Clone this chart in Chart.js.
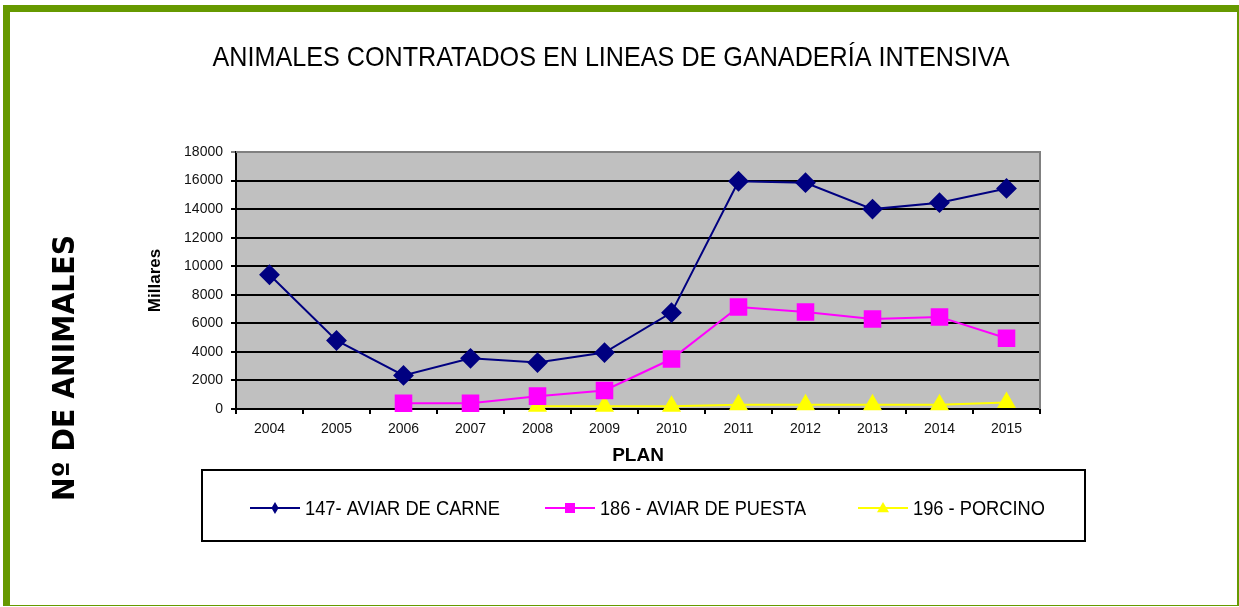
<!DOCTYPE html>
<html>
<head>
<meta charset="utf-8">
<script src="https://cdn.jsdelivr.net/npm/chart.js@4.4.0/dist/chart.umd.min.js"></script>
<style>
  html, body { margin: 0; padding: 0; background: #fff; }
  #frame {
    position: absolute; left: 3px; top: 5px; width: 1227px; height: 593px;
    border-left: 7px solid #669900; border-top: 7px solid #669900;
    border-right: 2px solid #669900; border-bottom: 1px solid #669900;
  }
  #chart { position: absolute; left: 0; top: 0; }
</style>
</head>
<body>
<div id="frame"></div>
<canvas id="chart" width="1239" height="607"></canvas>
<script>
const years = ["2004", "2005", "2006", "2007", "2008", "2009", "2010", "2011", "2012", "2013", "2014", "2015"];
const aviarCarne = [9400, 4800, 2350, 3550, 3250, 3950, 6750, 15950, 15850, 14000, 14450, 15450];
const aviarPuesta = [null, null, 400, 400, 900, 1300, 3500, 7150, 6800, 6300, 6450, 4950];
const porcino = [null, null, null, null, 200, 200, 200, 300, 300, 300, 300, 450];

const seriesNames = ["147- AVIAR DE CARNE", "186 - AVIAR DE PUESTA", "196 - PORCINO"];
const yTicks = [0, 2000, 4000, 6000, 8000, 10000, 12000, 14000, 16000, 18000];
const chartTitle = "ANIMALES CONTRATADOS EN LINEAS DE GANADERÍA INTENSIVA";

const tickFont = { family: "Arial, 'Liberation Sans', sans-serif", size: 14 };

// gray plot background, gray top/right edge, title, legend box and side label
const decorations = {
  id: "decorations",
  beforeDraw(chart) {
    const { ctx, chartArea: a } = chart;
    ctx.save();
    ctx.fillStyle = "#c0c0c0";
    ctx.fillRect(a.left, a.top, a.right - a.left, a.bottom - a.top);
    ctx.restore();
  },
  beforeDatasetsDraw(chart) {
    const { ctx, chartArea: a } = chart;
    ctx.save();
    ctx.strokeStyle = "#808080";
    ctx.lineWidth = 2;
    ctx.beginPath();
    ctx.moveTo(a.left, a.top);
    ctx.lineTo(a.right, a.top);
    ctx.lineTo(a.right, a.bottom);
    ctx.stroke();
    ctx.restore();
  },
  afterDraw(chart) {
    const { ctx } = chart;
    ctx.save();
    // title, condensed to the narrow look of the original
    ctx.fillStyle = "#000";
    ctx.font = "28px 'Liberation Sans', Arial, sans-serif";
    ctx.textAlign = "center";
    ctx.textBaseline = "middle";
    ctx.fillText(chartTitle, 611, 58, 797);

    // legend box
    ctx.strokeStyle = "#000";
    ctx.lineWidth = 2;
    ctx.strokeRect(202, 470, 883, 71);
    const itemX = [250, 545, 858];
    const textW = [195, 206, 132];
    const cy = 508;
    ctx.font = "20px 'Liberation Sans', Arial, sans-serif";
    ctx.textAlign = "left";
    chart.data.datasets.forEach((ds, i) => {
      const x0 = itemX[i];
      const mx = x0 + 25;
      ctx.strokeStyle = ds.borderColor;
      ctx.lineWidth = 2;
      ctx.beginPath();
      ctx.moveTo(x0, cy);
      ctx.lineTo(x0 + 50, cy);
      ctx.stroke();
      ctx.fillStyle = ds.backgroundColor;
      ctx.beginPath();
      const r = 6;
      if (ds.pointStyle === "rectRot") {
        ctx.moveTo(mx, cy - r); ctx.lineTo(mx + r * 0.6, cy);
        ctx.lineTo(mx, cy + r); ctx.lineTo(mx - r * 0.6, cy);
      } else if (ds.pointStyle === "rect") {
        ctx.rect(mx - 5, cy - 5, 10, 10);
      } else {
        ctx.moveTo(mx, cy - r); ctx.lineTo(mx + r, cy + r * 0.7);
        ctx.lineTo(mx - r, cy + r * 0.7);
      }
      ctx.closePath();
      ctx.fill();
      ctx.fillStyle = "#000";
      ctx.fillText(ds.label, x0 + 55, cy + 1, textW[i]);
    });

    // outer axis label
    ctx.translate(66, 368);
    ctx.rotate(-Math.PI / 2);
    ctx.font = "bold 30px 'DejaVu Sans', sans-serif";
    ctx.textAlign = "center";
    ctx.fillStyle = "#000";
    ctx.fillText("Nº DE ANIMALES", 0, 0, 266);
    ctx.restore();
  }
};

new Chart(document.getElementById("chart"), {
  type: "line",
  plugins: [decorations],
  data: {
    labels: years,
    datasets: [
      {
        label: seriesNames[0], data: aviarCarne,
        borderColor: "#000080", backgroundColor: "#000080",
        borderWidth: 2, pointStyle: "rectRot", pointRadius: 9, clip: false
      },
      {
        label: seriesNames[1], data: aviarPuesta,
        borderColor: "#ff00ff", backgroundColor: "#ff00ff",
        borderWidth: 2, pointStyle: "rect", pointRadius: 11, clip: false
      },
      {
        label: seriesNames[2], data: porcino,
        borderColor: "#ffff00", backgroundColor: "#ffff00",
        borderWidth: 2, pointStyle: "triangle", pointRadius: 9, clip: false
      }
    ]
  },
  options: {
    responsive: false,
    animation: false,
    events: [],
    layout: { padding: { left: 145, right: 199, top: 152, bottom: 138 } },
    elements: { line: { tension: 0 }, point: { borderWidth: 1 } },
    plugins: {
      legend: { display: false },
      tooltip: { enabled: false },
      title: { display: false }
    },
    scales: {
      x: {
        offset: true,
        grid: { offset: true, drawOnChartArea: false, color: "#000", lineWidth: 2, tickLength: 5 },
        border: { color: "#000", width: 2 },
        ticks: { color: "#111", font: tickFont, padding: 7, maxRotation: 0 },
        title: {
          display: true, text: "PLAN", color: "#000",
          font: { family: "Arial, 'Liberation Sans', sans-serif", size: 19, weight: "bold" },
          padding: { top: 0, bottom: 2 }
        },
        afterFit(scale) { scale.height = 60; }
      },
      y: {
        min: 0, max: 18000,
        afterBuildTicks(scale) { scale.ticks = yTicks.map(v => ({ value: v })); },
        grid: {
          color: ctx => (ctx.tick && ctx.tick.value === 18000 ? "#808080" : "#000"),
          lineWidth: 2, tickLength: 5
        },
        border: { color: "#000", width: 2 },
        ticks: { color: "#111", font: tickFont, padding: 8, callback: v => String(v) },
        title: {
          display: true, text: "Millares", color: "#000",
          font: { family: "Arial, 'Liberation Sans', sans-serif", size: 17, weight: "bold" },
          padding: { top: 0, bottom: 0 }
        },
        afterFit(scale) { scale.width = 91; }
      }
    }
  }
});
</script>
</body>
</html>
